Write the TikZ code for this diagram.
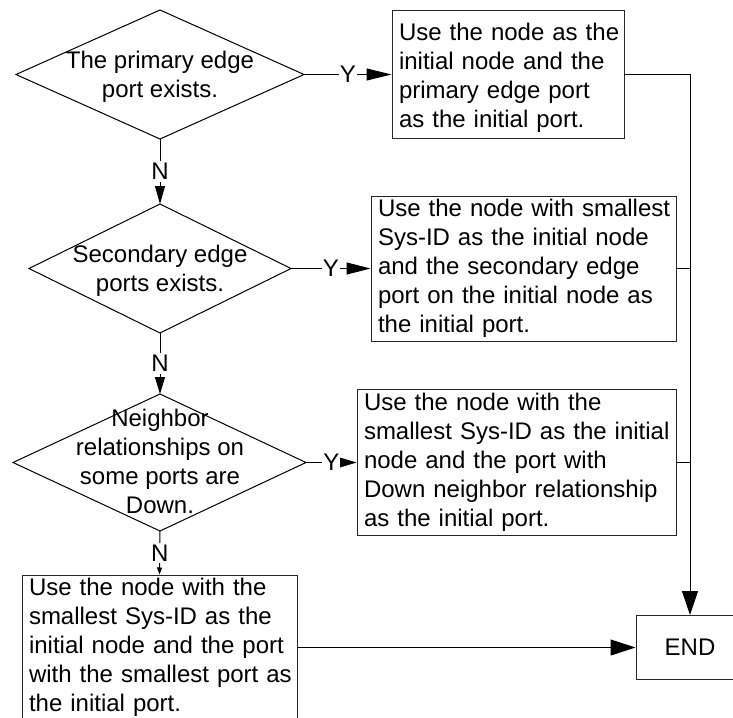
\documentclass[tikz,border=0pt]{standalone}
\usepackage{fontspec}
\setmainfont{Liberation Sans}
\usetikzlibrary{arrows.meta}
\newcommand{\txtlines}[1]{\begin{tabular}{@{}l@{}}#1\end{tabular}}
\begin{document}
\begin{tikzpicture}[x=1pt,y=-1pt,
  font=\fontsize{24}{29}\selectfont,
  conn/.style={draw=black, line width=1pt},
  box/.style={draw=black!85, line width=1pt, rectangle, align=left, inner xsep=7pt, inner ysep=0pt},
  dtext/.style={align=center, inner sep=0pt},
  diam/.style={draw=black, line width=1pt, line join=miter},
  lbl/.style={fill=white, inner xsep=1pt, inner ysep=2pt}
]
\clip (0,0) rectangle (733,717);

% decision 1
\coordinate (d1l) at (16,74.5);
\coordinate (d1t) at (160,10);
\coordinate (d1r) at (304,74.5);
\coordinate (d1b) at (160,139);
\draw[diam] (d1l) -- (d1t) -- (d1r) -- (d1b) -- cycle;
\node[dtext] (t1) at (160,77) {The primary edge\\port exists.};

% decision 2
\coordinate (d2l) at (29,268.5);
\coordinate (d2t) at (160,204);
\coordinate (d2r) at (291,268.5);
\coordinate (d2b) at (160,333);
\draw[diam] (d2l) -- (d2t) -- (d2r) -- (d2b) -- cycle;
\node[dtext] (t2) at (160,271) {Secondary edge\\ports exists.};

% decision 3
\coordinate (d3l) at (13,462.5);
\coordinate (d3t) at (160,394);
\coordinate (d3r) at (306,462.5);
\coordinate (d3b) at (160,531);
\draw[diam] (d3l) -- (d3t) -- (d3r) -- (d3b) -- cycle;
\node[dtext] (t3) at (160,461) {Neighbor\\relationships on\\some ports are\\Down.};

% action boxes
\node[box, text width=218pt, minimum height=128pt] (b1) at (508,74.5)
  {\txtlines{\rule{0pt}{27pt}Use the node as the\\initial node and the\\primary edge port\\as the initial port.}};
\node[box, text width=291pt, minimum height=145pt] (b2) at (523.5,268.5)
  {\txtlines{Use the node with smallest\\Sys-ID as the initial node\\and the secondary edge\\port on the initial node as\\the initial port.}};
\node[box, text width=305pt, minimum height=146pt] (b3) at (516.5,462.5)
  {\txtlines{Use the node with the\\smallest Sys-ID as the initial\\node and the port with\\Down neighbor relationship\\as the initial port.}};
\node[box, text width=261pt, minimum height=143pt] (b4) at (159.5,647.5)
  {\txtlines{Use the node with the\\smallest Sys-ID as the\\initial node and the port\\with the smallest port as\\the initial port.}};
\node[box, align=center, minimum width=108pt, minimum height=64pt, inner xsep=0pt] (E) at (690,647.5) {END};

% Y branches
\draw[conn, -{Triangle[length=25pt,width=12pt]}] (d1r) -- node[lbl]{Y} (b1.west);
\draw[conn, -{Triangle[length=24pt,width=12pt]}] (d2r) -- node[lbl]{Y} (b2.west);
\draw[conn, -{Triangle[length=17pt,width=10pt]}] (d3r) -- node[lbl]{Y} (b3.west);

% N branches
\draw[conn, -{Triangle[length=18pt,width=10pt]}] (d1b) -- node[lbl]{N} (d2t);
\draw[conn, -{Triangle[length=17pt,width=10pt]}] (d2b) -- node[lbl]{N} (d3t);
\draw[conn, -{Triangle[length=7pt,width=5pt]}] (d3b) -- node[lbl]{N} (b4.north);

% to END
\draw[conn, -{Triangle[length=24pt,width=16pt]}] (b1.east) -- (b1.east -| E.north) -- (E.north);
\draw[conn] (b2.east) -- (b2.east -| E.north);
\draw[conn] (b3.east) -- (b3.east -| E.north);
\draw[conn, -{Triangle[length=25pt,width=16pt]}] (b4.east) -- (E.west);
\end{tikzpicture}
\end{document}
